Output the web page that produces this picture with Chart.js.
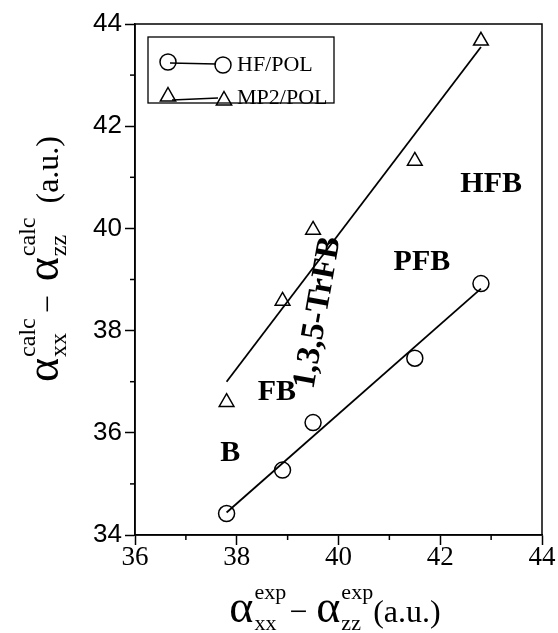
<!DOCTYPE html>
<html>
<head>
<meta charset="utf-8">
<script src="https://cdn.jsdelivr.net/npm/chart.js@4/dist/chart.umd.min.js"></script>
<style>
    body { margin: 0; background: #fff; }
    canvas { display: block; }
</style>
</head>
<body>
<canvas id="chart" width="558" height="633"></canvas>
<script>
/* =========================
   DATA
========================= */

const molecules = ["B", "FB", "1,3,5-TrFB", "PFB", "HFB"];
const alphaExp = [37.8, 38.9, 39.5, 41.5, 42.8];
const hfPol = [34.42, 35.27, 36.2, 37.46, 38.92];
const mp2Pol = [36.6, 38.58, 39.97, 41.32, 43.67];

// fitted straight lines, read at the two ends
const fitX = [37.8, 42.8];
const hfFit = [34.44, 38.82];
const mp2Fit = [37.0, 43.55];

const xTicks = [36, 38, 40, 42, 44];
const yTicks = [34, 36, 38, 40, 42, 44];

// where the molecule names sit (data units)
const nameX = [37.87, 38.79, 39.6, 41.64, 43.0];
const nameY = [35.6, 36.79, 38.35, 39.34, 40.86];
const nameRot = [0, 0, -80, 0, 0];
const nameSize = [30, 30, 33, 30, 30];

const toPoints = (xs, ys) => xs.map((x, i) => ({ x: x, y: ys[i] }));

const SERIF = "'Liberation Serif', 'Times New Roman', serif";
const SANS = "'Liberation Sans', Arial, sans-serif";

/* =========================
   HELPERS
========================= */

const measureCanvas = document.createElement("canvas").getContext("2d");
function textWidth(text, font) {
    measureCanvas.font = font;
    return measureCanvas.measureText(text).width;
}

// draws a run of text pieces (main / sup / sub) starting at x, baseline y
function drawRich(ctx, parts, x, y) {
    parts.forEach(p => {
        ctx.font = p.font;
        ctx.fillText(p.text, x, y + (p.dy || 0));
        x += ctx.measureText(p.text).width + (p.gap || 0);
    });
}

function richWidth(parts) {
    return parts.reduce((w, p) => w + textWidth(p.text, p.font) + (p.gap || 0), 0);
}

function axisTitle(which) {
    const isX = which === "x";
    const big = "46px " + SERIF;
    const norm = "32px " + SERIF;
    const small = (isX ? 22 : 24) + "px " + SERIF;
    const up = isX ? "exp" : "calc";
    const upW = textWidth(up, small);
    return [
        { text: "\u03B1", font: big, gap: 1 },
        { text: up, font: small, dy: -23, gap: -upW },
        { text: "xx", font: small, dy: 8, gap: Math.max(upW - textWidth("xx", small), 0) + (isX ? 3 : 5) },
        { text: "\u2212", font: norm, gap: isX ? 9 : 14 },
        { text: "\u03B1", font: big, gap: 1 },
        { text: up, font: small, dy: -23, gap: -upW },
        { text: "zz", font: small, dy: 8, gap: Math.max(upW - textWidth("zz", small), 0) + (isX ? 0 : 14) },
        { text: "(a.u.)", font: norm }
    ];
}

function drawTriangle(ctx, x, y, r) {
    ctx.beginPath();
    ctx.moveTo(x, y - r);
    ctx.lineTo(x + r * 0.9, y + r * 0.6);
    ctx.lineTo(x - r * 0.9, y + r * 0.6);
    ctx.closePath();
    ctx.stroke();
}

/* =========================
   PLUGIN: box, minor ticks, titles, legend, names
========================= */

const decorations = {
    id: "decorations",
    afterDraw(chart) {
        const ctx = chart.ctx;
        const area = chart.chartArea;
        const xs = chart.scales.x;
        const ys = chart.scales.y;

        ctx.save();
        ctx.strokeStyle = "#000";
        ctx.fillStyle = "#000";
        ctx.lineWidth = 1.5;

        // frame
        ctx.strokeRect(area.left, area.top, area.right - area.left, area.bottom - area.top);

        // minor ticks
        for (let v = 37; v < 44; v += 2) {
            const px = xs.getPixelForValue(v);
            ctx.beginPath();
            ctx.moveTo(px, area.bottom);
            ctx.lineTo(px, area.bottom + 5);
            ctx.stroke();
        }
        for (let v = 35; v < 44; v += 2) {
            const py = ys.getPixelForValue(v);
            ctx.beginPath();
            ctx.moveTo(area.left, py);
            ctx.lineTo(area.left - 5, py);
            ctx.stroke();
        }

        // axis titles
        ctx.textAlign = "left";
        ctx.textBaseline = "alphabetic";
        const xt = axisTitle("x");
        const xw = richWidth(xt);
        drawRich(ctx, xt, 335 - xw / 2, 622);

        const yt = axisTitle("y");
        const yw = richWidth(yt);
        ctx.save();
        ctx.translate(58, 259);
        ctx.rotate(-Math.PI / 2);
        drawRich(ctx, yt, -yw / 2, 0);
        ctx.restore();

        // legend
        ctx.lineWidth = 1.3;
        ctx.strokeRect(148, 37, 186, 66);
        ctx.lineWidth = 1.5;
        ctx.beginPath();
        ctx.arc(168, 62, 8, 0, Math.PI * 2);
        ctx.stroke();
        ctx.beginPath();
        ctx.arc(223, 65, 8, 0, Math.PI * 2);
        ctx.stroke();
        ctx.beginPath();
        ctx.moveTo(170, 63);
        ctx.lineTo(216, 64);
        ctx.stroke();

        drawTriangle(ctx, 168, 96, 8.5);
        drawTriangle(ctx, 224, 100, 8.5);
        ctx.beginPath();
        ctx.moveTo(172, 100);
        ctx.lineTo(218, 98);
        ctx.stroke();

        ctx.font = "22px " + SERIF;
        ctx.textBaseline = "middle";
        ctx.fillText("HF/POL", 237, 65);
        ctx.fillText("MP2/POL", 237, 98);

        // molecule names
        ctx.textAlign = "center";
        molecules.forEach((name, i) => {
            ctx.save();
            ctx.font = "bold " + nameSize[i] + "px " + SERIF;
            ctx.translate(xs.getPixelForValue(nameX[i]), ys.getPixelForValue(nameY[i]));
            ctx.rotate(nameRot[i] * Math.PI / 180);
            ctx.fillText(name, 0, 0);
            ctx.restore();
        });

        ctx.restore();
    }
};

/* =========================
   CHART
========================= */

const ctx = document.getElementById("chart");

new Chart(ctx, {
    type: "scatter",
    data: {
        datasets: [
            {
                label: "HF/POL",
                data: toPoints(alphaExp, hfPol),
                pointStyle: "circle",
                pointRadius: 8,
                borderColor: "#000",
                borderWidth: 1.5,
                backgroundColor: "rgba(0,0,0,0)"
            },
            {
                label: "MP2/POL",
                data: toPoints(alphaExp, mp2Pol),
                pointStyle: "triangle",
                pointRadius: 8.5,
                borderColor: "#000",
                borderWidth: 1.5,
                backgroundColor: "rgba(0,0,0,0)"
            },
            {
                label: "HF fit",
                data: toPoints(fitX, hfFit),
                showLine: true,
                pointRadius: 0,
                borderColor: "#000",
                borderWidth: 1.8
            },
            {
                label: "MP2 fit",
                data: toPoints(fitX, mp2Fit),
                showLine: true,
                pointRadius: 0,
                borderColor: "#000",
                borderWidth: 1.8
            }
        ]
    },
    options: {
        responsive: false,
        animation: false,
        devicePixelRatio: 1,
        layout: { padding: { top: 24, right: 16, left: 0, bottom: 0 } },
        plugins: {
            legend: { display: false },
            tooltip: { enabled: false }
        },
        scales: {
            x: {
                type: "linear",
                min: 36,
                max: 44,
                afterBuildTicks: s => { s.ticks = xTicks.map(v => ({ value: v })); },
                afterFit: s => { s.height = 98; },
                ticks: {
                    color: "#000",
                    font: { family: SERIF, size: 27 },
                    padding: -3
                },
                grid: {
                    drawOnChartArea: false,
                    tickLength: 10,
                    tickColor: "#000",
                    tickWidth: 1.5
                },
                border: { color: "#000", width: 1.5 }
            },
            y: {
                type: "linear",
                min: 34,
                max: 44,
                afterBuildTicks: s => { s.ticks = yTicks.map(v => ({ value: v })); },
                afterFit: s => { s.width = 135; },
                ticks: {
                    color: "#000",
                    font: { family: SANS, size: 26 },
                    padding: 3
                },
                grid: {
                    drawOnChartArea: false,
                    tickLength: 10,
                    tickColor: "#000",
                    tickWidth: 1.5
                },
                border: { color: "#000", width: 1.5 }
            }
        }
    },
    plugins: [decorations]
});
</script>
</body>
</html>
